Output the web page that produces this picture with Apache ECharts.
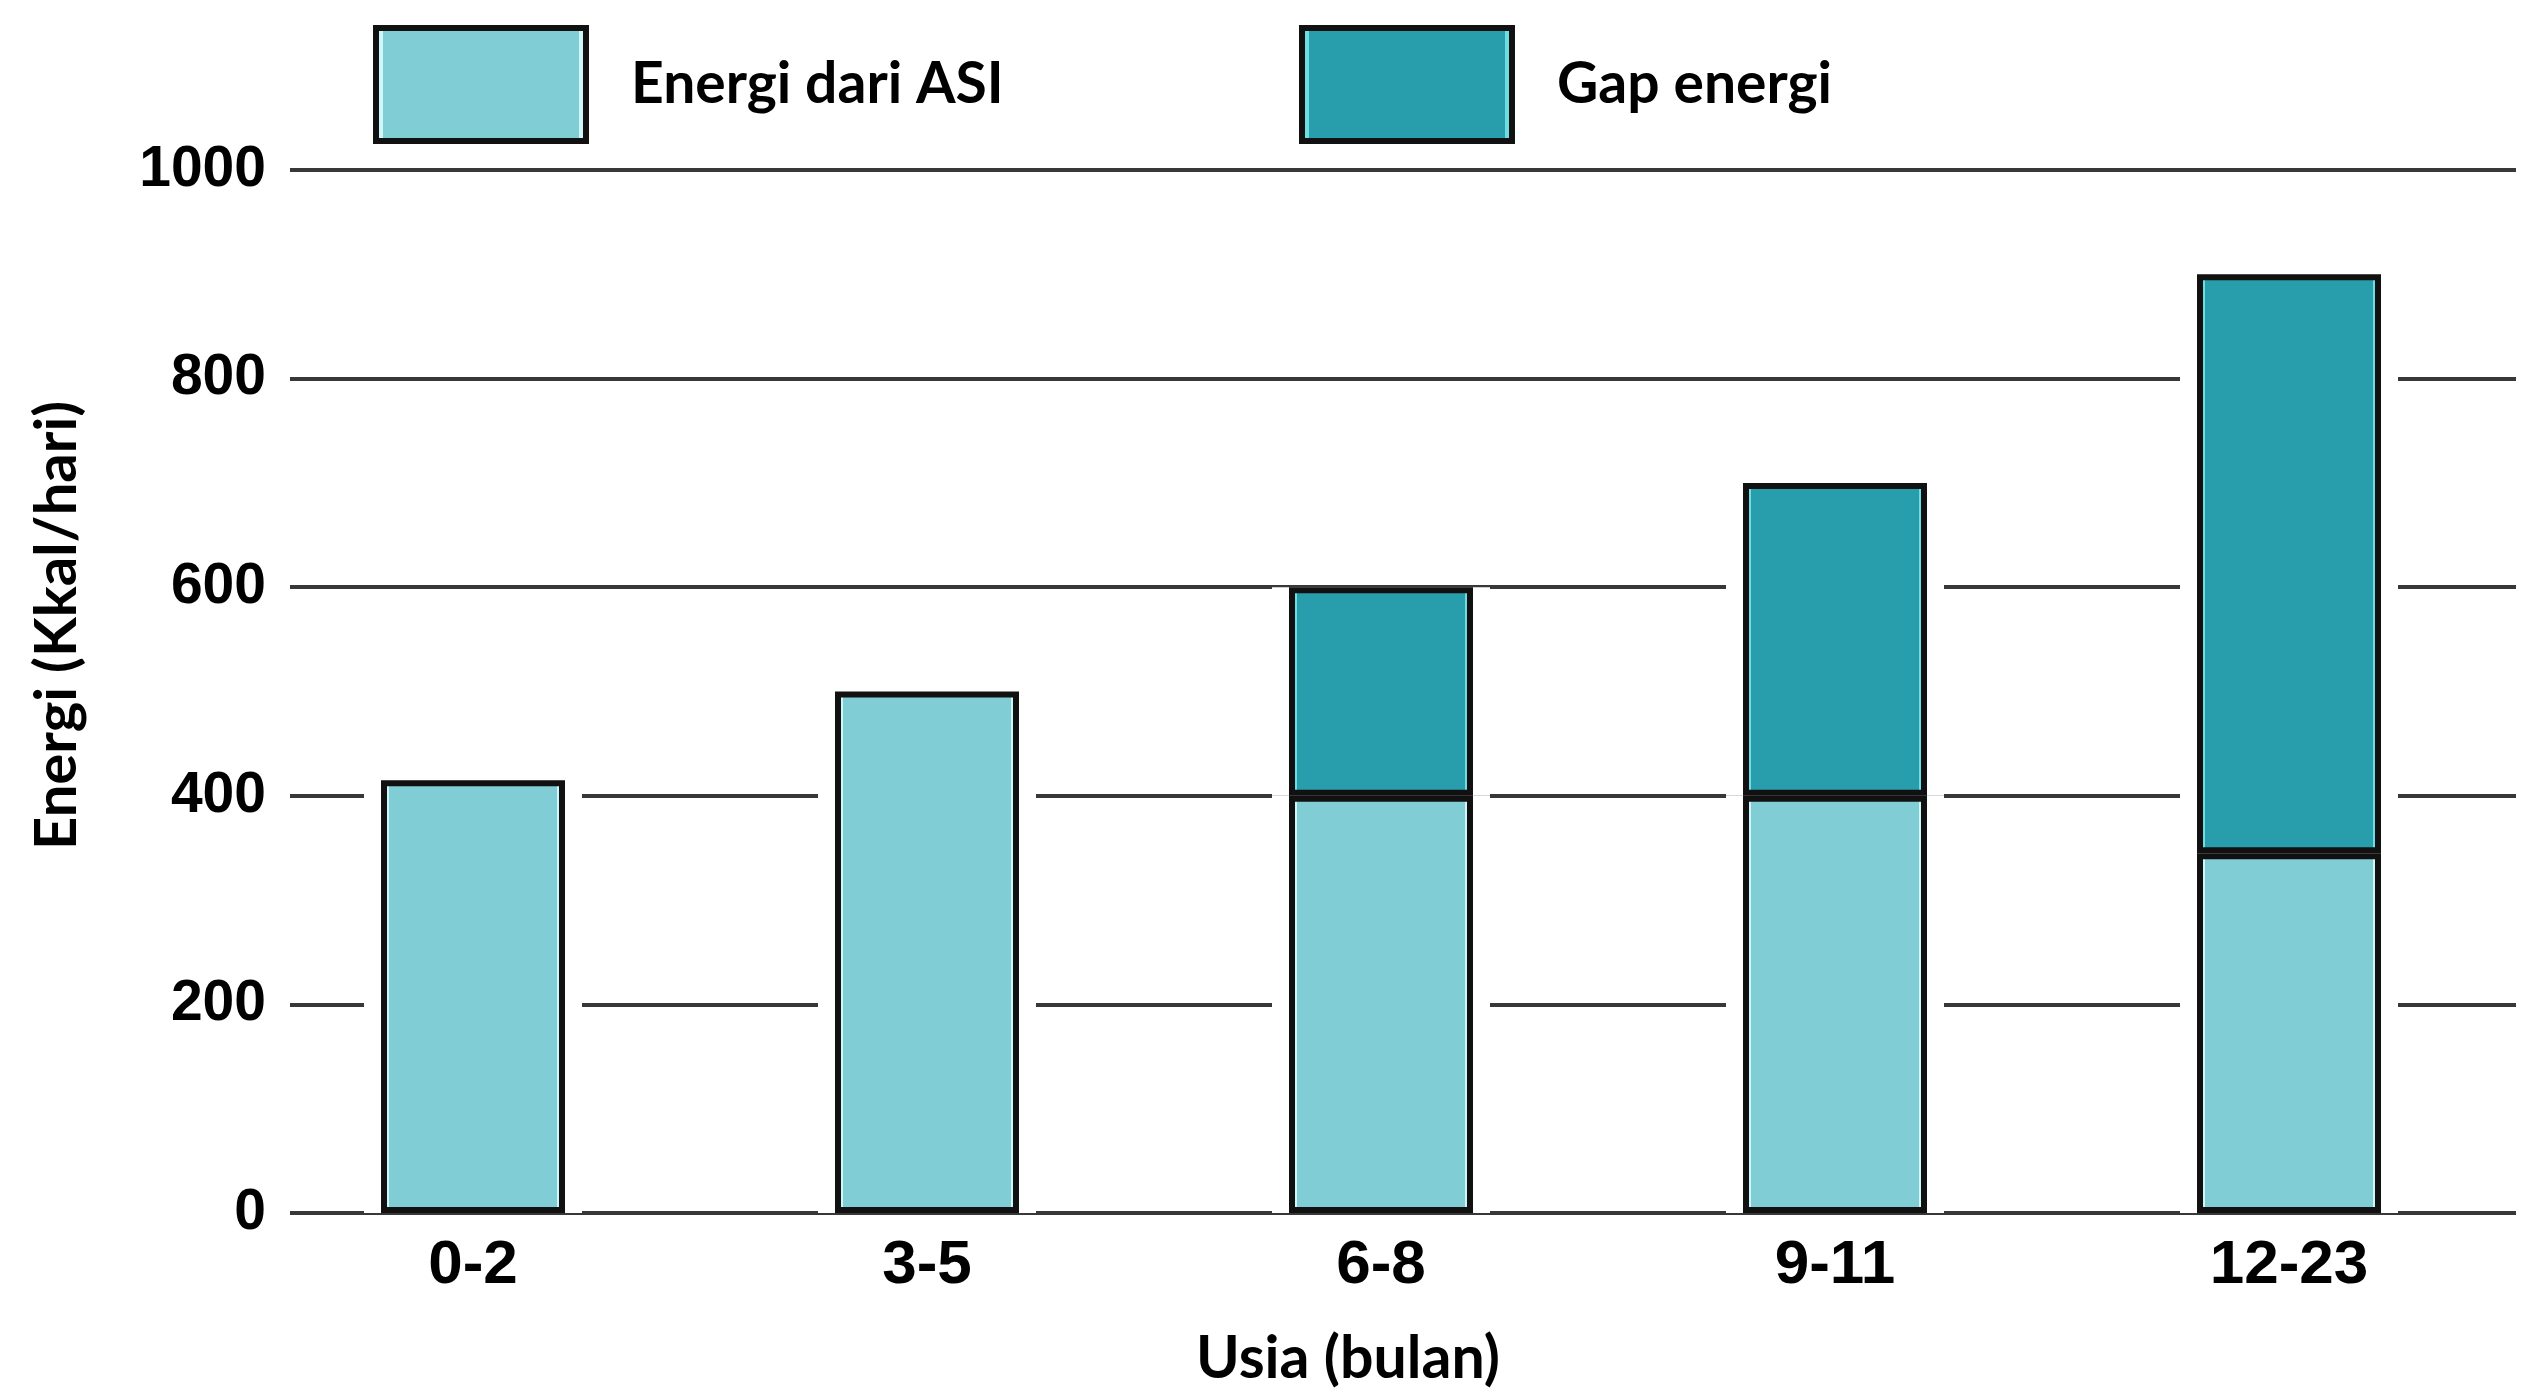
<!DOCTYPE html>
<html>
<head>
<meta charset="utf-8">
<script src="https://cdn.jsdelivr.net/npm/echarts@6/dist/echarts.min.js"></script>
<style>
html,body{margin:0;padding:0;background:#fff;}
#main{width:2529px;height:1393px;}
</style>
</head>
<body>
<div id="main"></div>
<script>
// ---- data ----
const categories = ['0-2', '3-5', '6-8', '9-11', '12-23'];
const energiASI = [415, 500, 400, 400, 345];
const gapEnergi = [0, 0, 200, 300, 555];
const yTicks = [0, 200, 400, 600, 800, 1000];
const seriesNames = ['Energi dari ASI', 'Gap energi'];
const axisNames = ['Usia (bulan)', 'Energi (Kkal/hari)'];

const chart = echarts.init(document.getElementById('main'));

function fill(main, edge) {
  return {
    type: 'linear', x: 0, y: 0, x2: 1, y2: 0,
    colorStops: [
      {offset: 0, color: edge}, {offset: 0.045, color: edge},
      {offset: 0.046, color: main}, {offset: 0.954, color: main},
      {offset: 0.955, color: edge}, {offset: 1, color: edge}
    ]
  };
}
const lightFill = fill('#80CDD6', '#CFF7F7');
const darkFill = fill('#289DAB', '#6FDCE2');

const toBar = arr => arr.map(v => (v === 0 ? '-' : v));
const BW = 184;
const labelFont = '"Liberation Sans", Arial, sans-serif';
const textFont = 'Lato, "Open Sans", sans-serif';

const legendCommon = {
  top: 20, itemWidth: 210, itemHeight: 113, icon: 'rect',
  itemStyle: {borderColor: '#111', borderWidth: 6},
  textStyle: {fontFamily: textFont, fontWeight: 'bold', fontSize: 57, color: '#000', padding: [0, 0, 0, 40]},
  selectedMode: false
};

chart.setOption({
  backgroundColor: '#fff',
  animation: false,
  legend: [
    Object.assign({left: 368, data: [seriesNames[0]]}, legendCommon),
    Object.assign({left: 1294, data: [seriesNames[1]]}, legendCommon)
  ],
  grid: {left: 246, right: 13, top: 170, bottom: 166, containLabel: false},
  xAxis: [{
    type: 'category',
    data: categories,
    axisLine: {show: false},
    axisTick: {show: false},
    axisLabel: {fontFamily: labelFont, fontWeight: 'bold', fontSize: 62, color: '#000', margin: 22},
    name: axisNames[0],
    nameLocation: 'middle',
    nameGap: 116,
    nameTextStyle: {fontFamily: textFont, fontWeight: 'bold', fontSize: 59, color: '#000', padding: [0, 66, 0, 0]}
  }, {
    type: 'category',
    data: categories,
    show: false
  }],
  yAxis: {
    type: 'value',
    min: yTicks[0], max: yTicks[yTicks.length - 1], interval: yTicks[1] - yTicks[0],
    axisLine: {show: false},
    axisTick: {show: false},
    splitLine: {show: true, lineStyle: {color: '#383838', width: 4}},
    axisLabel: {
      fontFamily: labelFont, fontWeight: 'bold', fontSize: 57, color: '#000',
      margin: -44, backgroundColor: '#fff', padding: [6, 24, 6, 0],
      formatter: v => String(v)
    },
    name: axisNames[1],
    nameLocation: 'middle',
    nameGap: 160,
    nameTextStyle: {fontFamily: textFont, fontWeight: 'bold', fontSize: 58, color: '#000', padding: [0, 0, 0, 132]}
  },
  series: [
    {name: 'halo1', type: 'bar', stack: 'halo', xAxisIndex: 1, data: energiASI, barWidth: BW + 34, z: 1, silent: true,
     itemStyle: {color: '#fff'}},
    {name: 'halo2', type: 'bar', stack: 'halo', xAxisIndex: 1, data: toBar(gapEnergi), barWidth: BW + 34, z: 1, silent: true,
     itemStyle: {color: '#fff'}},
    {name: seriesNames[0], type: 'bar', stack: 'main', data: energiASI, barWidth: BW, z: 3,
     itemStyle: {color: lightFill, borderColor: '#111', borderWidth: 6}},
    {name: seriesNames[1], type: 'bar', stack: 'main', data: toBar(gapEnergi), barWidth: BW, z: 3,
     itemStyle: {color: darkFill, borderColor: '#111', borderWidth: 6}}
  ]
});
</script>
</body>
</html>
